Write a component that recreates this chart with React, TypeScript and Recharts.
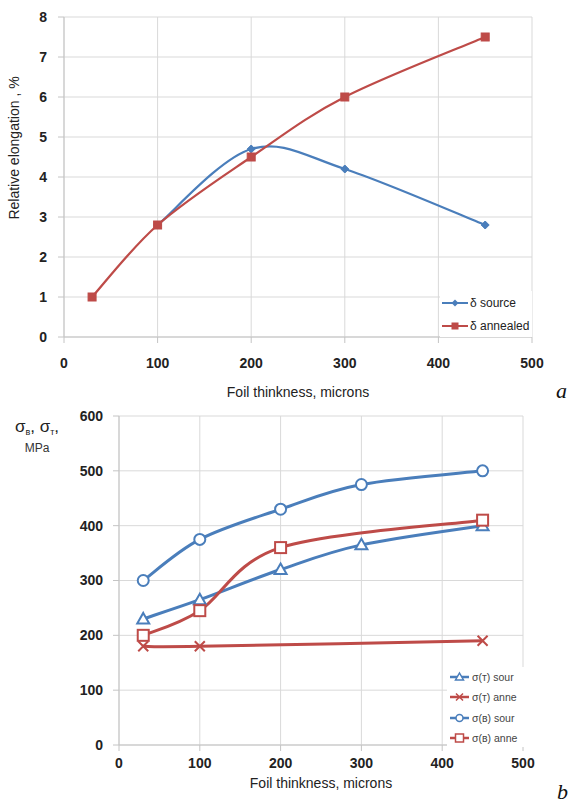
import React from 'react';
import { LineChart, Line, XAxis, YAxis, CartesianGrid, Legend } from 'recharts';

// ---------- Data: chart a ----------
const thicknessSource = [100, 200, 300, 450];
const deltaSource = [2.8, 4.7, 4.2, 2.8];
const thicknessAnnealed = [30, 100, 200, 300, 450];
const deltaAnnealed = [1.0, 2.8, 4.5, 6.0, 7.5];
const xTicks = [0, 100, 200, 300, 400, 500];
const yTicksA = [0, 1, 2, 3, 4, 5, 6, 7, 8];
const legendA = ['δ source', 'δ annealed'];

// ---------- Data: chart b ----------
const thicknessB = [30, 100, 200, 300, 450];
const sigmaTSource = [230, 265, 320, 365, 400];
const thicknessTAnnealed = [30, 100, 450];
const sigmaTAnnealed = [180, 180, 190];
const sigmaBSource = [300, 375, 430, 475, 500];
const thicknessBAnnealed = [30, 100, 200, 450];
const sigmaBAnnealed = [200, 245, 360, 410];
const yTicksB = [0, 100, 200, 300, 400, 500, 600];
const legendB = ['σ(т) sour', 'σ(т) anne', 'σ(в) sour', 'σ(в) anne'];

const zip = (xs: number[], ys: number[]) => xs.map((x, i) => ({ x, y: ys[i] }));

const dataASource = zip(thicknessSource, deltaSource);
const dataAAnnealed = zip(thicknessAnnealed, deltaAnnealed);
const dataTS = zip(thicknessB, sigmaTSource);
const dataTA = zip(thicknessTAnnealed, sigmaTAnnealed);
const dataBS = zip(thicknessB, sigmaBSource);
const dataBA = zip(thicknessBAnnealed, sigmaBAnnealed);

const BLUE = '#4A7EBB';
const RED = '#BE4B48';
const GRID = '#d9d9d9';
const AXIS = '#c4c4c4';
const TICK_FONT = { fontFamily: 'Liberation Sans, Arial, sans-serif', fontSize: 14, fontWeight: 700, fill: '#222' };
const LABEL_FONT = 'Liberation Sans, Arial, sans-serif';

// Excel-like smoothed curve (Catmull-Rom style bezier)
const excelCurve: any = (context: any) => {
  let pts: [number, number][] = [];
  return {
    areaStart() {},
    areaEnd() {},
    lineStart() { pts = []; },
    point(x: number, y: number) { pts.push([+x, +y]); },
    lineEnd() {
      if (!pts.length) return;
      context.moveTo(pts[0][0], pts[0][1]);
      const t = 1 / 6;
      for (let i = 0; i < pts.length - 1; i++) {
        const p0 = pts[i - 1] || pts[i];
        const p1 = pts[i];
        const p2 = pts[i + 1];
        const p3 = pts[i + 2] || pts[i + 1];
        context.bezierCurveTo(
          p1[0] + (p2[0] - p0[0]) * t, p1[1] + (p2[1] - p0[1]) * t,
          p2[0] - (p3[0] - p1[0]) * t, p2[1] - (p3[1] - p1[1]) * t,
          p2[0], p2[1]
        );
      }
    },
  };
};

// ---------- Markers ----------
const diamondPath = (cx: number, cy: number, s: number) => `M${cx},${cy - s}L${cx + s},${cy}L${cx},${cy + s}L${cx - s},${cy}Z`;

const DiamondDot = (p: any) =>
  p.cx == null ? null : <path key={`d${p.index}`} d={diamondPath(p.cx, p.cy, 4)} fill={BLUE} stroke={BLUE} strokeWidth={1} />;
const SquareDot = (p: any) =>
  p.cx == null ? null : <rect key={`s${p.index}`} x={p.cx - 4} y={p.cy - 4} width={8} height={8} fill={RED} stroke={RED} strokeWidth={1} />;
const HollowTriangle = (p: any) =>
  p.cx == null ? null : (
    <path key={`t${p.index}`} d={`M${p.cx},${p.cy - 6}L${p.cx + 6},${p.cy + 4.5}L${p.cx - 6},${p.cy + 4.5}Z`} fill="#fff" stroke={BLUE} strokeWidth={2} />
  );
const HollowCircle = (p: any) =>
  p.cx == null ? null : <circle key={`c${p.index}`} cx={p.cx} cy={p.cy} r={5.5} fill="#fff" stroke={BLUE} strokeWidth={2} />;
const HollowSquare = (p: any) =>
  p.cx == null ? null : <rect key={`q${p.index}`} x={p.cx - 5.5} y={p.cy - 5.5} width={11} height={11} fill="#fff" stroke={RED} strokeWidth={2} />;
const CrossDot = (p: any) =>
  p.cx == null ? null : (
    <path key={`x${p.index}`} d={`M${p.cx - 5},${p.cy - 5}L${p.cx + 5},${p.cy + 5}M${p.cx + 5},${p.cy - 5}L${p.cx - 5},${p.cy + 5}`} stroke={RED} strokeWidth={2} fill="none" />
  );

// ---------- Legends ----------
const legendAIcons = [
  { color: BLUE, marker: (cx: number, cy: number) => <path d={diamondPath(cx, cy, 3.5)} fill={BLUE} /> },
  { color: RED, marker: (cx: number, cy: number) => <rect x={cx - 3.5} y={cy - 3.5} width={7} height={7} fill={RED} /> },
];

const LegendA = () => (
  <div style={{ background: '#fff', width: 92, height: 46, fontFamily: LABEL_FONT, fontSize: 12, color: '#222' }}>
    {legendA.map((name, i) => (
      <div key={name} style={{ display: 'flex', alignItems: 'center', height: 23 }}>
        <svg width={28} height={12} style={{ marginLeft: 2 }}>
          <line x1={0} y1={6} x2={26} y2={6} stroke={legendAIcons[i].color} strokeWidth={2} />
          {legendAIcons[i].marker(13, 6)}
        </svg>
        <span style={{ marginLeft: 0 }}>{name}</span>
      </div>
    ))}
  </div>
);

const legendBIcons = [
  { color: BLUE, marker: (cx: number, cy: number) => <path d={`M${cx},${cy - 4}L${cx + 4},${cy + 3}L${cx - 4},${cy + 3}Z`} fill="#fff" stroke={BLUE} strokeWidth={1.5} /> },
  { color: RED, marker: (cx: number, cy: number) => <path d={`M${cx - 3.5},${cy - 3.5}L${cx + 3.5},${cy + 3.5}M${cx + 3.5},${cy - 3.5}L${cx - 3.5},${cy + 3.5}`} stroke={RED} strokeWidth={1.5} /> },
  { color: BLUE, marker: (cx: number, cy: number) => <circle cx={cx} cy={cy} r={3.5} fill="#fff" stroke={BLUE} strokeWidth={1.5} /> },
  { color: RED, marker: (cx: number, cy: number) => <rect x={cx - 4} y={cy - 4} width={8} height={8} fill="#fff" stroke={RED} strokeWidth={1.5} /> },
];

const LegendB = () => (
  <div style={{ background: '#fff', width: 80, height: 80, fontFamily: LABEL_FONT, fontSize: 10.5, color: '#444' }}>
    {legendB.map((name, i) => (
      <div key={name} style={{ display: 'flex', alignItems: 'center', height: 20.3 }}>
        <svg width={22} height={12} style={{ marginLeft: 3 }}>
          <line x1={0} y1={6} x2={19} y2={6} stroke={legendBIcons[i].color} strokeWidth={2.5} />
          {legendBIcons[i].marker(9.5, 6)}
        </svg>
        <span>{name}</span>
      </div>
    ))}
  </div>
);

export default function App() {
  return (
    <div style={{ position: 'absolute', left: 0, top: 0, width: 571, height: 805, background: '#fff' }}>
      {/* Chart a */}
      <div style={{ position: 'absolute', left: 0, top: 0 }}>
        <LineChart width={571} height={410} margin={{ top: 17, right: 39, left: 0, bottom: 0 }}>
          <CartesianGrid stroke={GRID} strokeWidth={1} />
          <XAxis
            type="number"
            dataKey="x"
            domain={[0, 500]}
            ticks={xTicks}
            height={73}
            tickSize={6}
            tickMargin={15}
            stroke={AXIS}
            tick={TICK_FONT}
            label={{
              content: () => (
                <text x={298} y={397} textAnchor="middle" fontFamily={LABEL_FONT} fontSize={14} fill="#222">
                  Foil thinkness, microns
                </text>
              ),
            }}
          />
          <YAxis
            type="number"
            dataKey="y"
            domain={[0, 8]}
            ticks={yTicksA}
            width={64}
            tickSize={6}
            tickMargin={11}
            stroke={AXIS}
            tick={TICK_FONT}
            label={{
              content: () => (
                <text x={19} y={148} transform="rotate(-90 19 148)" textAnchor="middle" fontFamily={LABEL_FONT} fontSize={14} fill="#222">
                  Relative elongation , %
                </text>
              ),
            }}
          />
          <Legend
            layout="vertical"
            align="center"
            verticalAlign="middle"
            content={() => <LegendA />}
            wrapperStyle={{ left: 440, top: 291, width: 92, height: 46 }}
          />
          <Line data={dataASource} dataKey="y" name="δ source" type={excelCurve} stroke={BLUE} strokeWidth={2.25} dot={DiamondDot} isAnimationActive={false} />
          <Line data={dataAAnnealed} dataKey="y" name="δ annealed" type={excelCurve} stroke={RED} strokeWidth={2.25} dot={SquareDot} isAnimationActive={false} />
        </LineChart>
      </div>

      {/* Chart b */}
      <div style={{ position: 'absolute', left: 0, top: 400 }}>
        <LineChart width={571} height={405} margin={{ top: 16, right: 48, left: 0, bottom: 0 }}>
          <CartesianGrid stroke={GRID} strokeWidth={1} />
          <XAxis
            type="number"
            dataKey="x"
            domain={[0, 500]}
            ticks={xTicks}
            height={60}
            tickSize={6}
            tickMargin={7}
            stroke={AXIS}
            tick={TICK_FONT}
            label={{
              content: () => (
                <text x={321} y={388} textAnchor="middle" fontFamily={LABEL_FONT} fontSize={14} fill="#222">
                  Foil thinkness, microns
                </text>
              ),
            }}
          />
          <YAxis
            type="number"
            dataKey="y"
            domain={[0, 600]}
            ticks={yTicksB}
            width={119}
            tickSize={6}
            tickMargin={10}
            stroke={AXIS}
            tick={TICK_FONT}
            label={{
              content: () => (
                <g>
                  <text x={15} y={32} fontFamily={LABEL_FONT} fontSize={17} fill="#222">
                    σ<tspan fontSize={9} dy={3}>в</tspan>
                    <tspan dy={-3}>, σ</tspan>
                    <tspan fontSize={9} dy={3}>т</tspan>
                    <tspan dy={-3}>,</tspan>
                  </text>
                  <text x={37} y={52} textAnchor="middle" fontFamily={LABEL_FONT} fontSize={12} fill="#333">
                    MPa
                  </text>
                </g>
              ),
            }}
          />
          <Legend
            layout="vertical"
            align="center"
            verticalAlign="middle"
            content={() => <LegendB />}
            wrapperStyle={{ left: 447, top: 267, width: 80, height: 80 }}
          />
          <Line data={dataTS} dataKey="y" name="σ(т) sour" type={excelCurve} stroke={BLUE} strokeWidth={3} dot={HollowTriangle} isAnimationActive={false} />
          <Line data={dataTA} dataKey="y" name="σ(т) anne" type={excelCurve} stroke={RED} strokeWidth={3} dot={CrossDot} isAnimationActive={false} />
          <Line data={dataBS} dataKey="y" name="σ(в) sour" type={excelCurve} stroke={BLUE} strokeWidth={3} dot={HollowCircle} isAnimationActive={false} />
          <Line data={dataBA} dataKey="y" name="σ(в) anne" type={excelCurve} stroke={RED} strokeWidth={3} dot={HollowSquare} isAnimationActive={false} />
        </LineChart>
      </div>

      <span style={{ position: 'absolute', left: 556, top: 378, fontFamily: 'Liberation Serif, Times New Roman, serif', fontStyle: 'italic', fontSize: 22, color: '#111' }}>a</span>
      <span style={{ position: 'absolute', left: 557, top: 779, fontFamily: 'Liberation Serif, Times New Roman, serif', fontStyle: 'italic', fontSize: 22, color: '#111' }}>b</span>
    </div>
  );
}
